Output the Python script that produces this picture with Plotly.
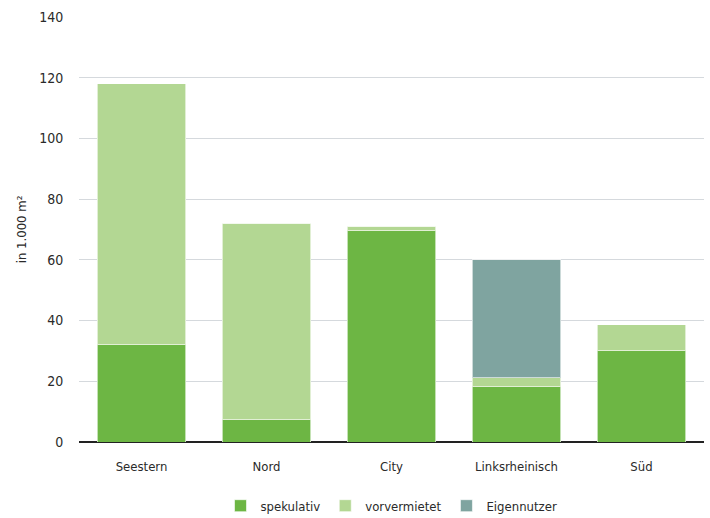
import plotly.graph_objects as go

categories = ["Seestern", "Nord", "City", "Linksrheinisch", "Süd"]
spekulativ = [32, 7.3, 69.6, 18.2, 30]
vorvermietet = [86, 64.7, 1.5, 3, 8.6]
eigennutzer = [0, 0, 0, 38.8, 0]
y_ticks = [0, 20, 40, 60, 80, 100, 120, 140]

FONT = "DejaVu Sans Condensed, Liberation Sans Narrow, sans-serif"

fig = go.Figure()
series = [
    ("spekulativ", spekulativ, "#6db644"),
    ("vorvermietet", vorvermietet, "#b3d793"),
    ("Eigennutzer", eigennutzer, "#7fa4a0"),
]
for name, vals, col in series:
    fig.add_trace(go.Bar(
        x=categories, y=vals, name=name,
        marker=dict(color=col, line=dict(color="rgba(255,255,255,0.6)", width=1)),
    ))

fig.update_layout(
    barmode="stack",
    bargap=0.29,
    width=710, height=518,
    margin=dict(l=79, r=6, t=17, b=76, autoexpand=False),
    plot_bgcolor="white",
    paper_bgcolor="white",
    font=dict(family=FONT, size=13, color="#2a2a2a"),
    showlegend=True,
    legend=dict(orientation="h", x=0.5, xanchor="center", y=-0.15, yanchor="middle",
                font=dict(size=13, family=FONT), traceorder="normal",
                itemwidth=30, tracegroupgap=0),
    xaxis=dict(showgrid=False, ticks="outside", ticklen=12, tickcolor="rgba(0,0,0,0)",
               showline=False, tickfont=dict(size=13, family=FONT)),
    yaxis=dict(range=[0, 140], tickvals=y_ticks, showgrid=True, gridcolor="#d5d9dd",
               gridwidth=1, zeroline=True, zerolinecolor="#222222", zerolinewidth=2,
               title=dict(text="in 1.000 m²", font=dict(size=13, family=FONT), standoff=9),
               ticks="outside", ticklen=12, tickcolor="rgba(0,0,0,0)",
               tickfont=dict(size=14, family=FONT)),
)
fig.write_html("out.html")
